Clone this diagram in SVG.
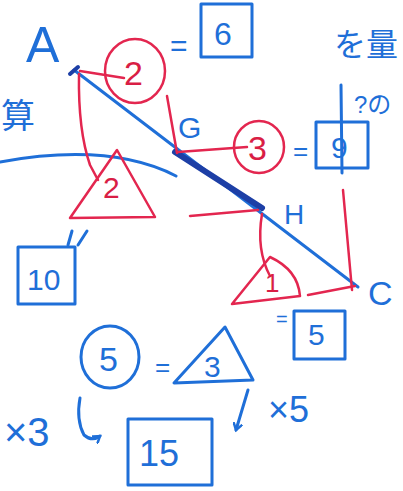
<svg xmlns="http://www.w3.org/2000/svg" width="403" height="491" viewBox="0 0 403 491">
<style>
.b{fill:none;stroke:#1f6fd8;stroke-width:3;stroke-linecap:round;stroke-linejoin:round}
.r{fill:none;stroke:#e3264f;stroke-width:2.5;stroke-linecap:round;stroke-linejoin:round}
.bt{fill:#1f6fd8;font-family:"Liberation Sans","Noto Sans CJK JP",sans-serif}
.rt{fill:#d91e45;font-family:"Liberation Sans",sans-serif}
</style>
<defs>
<marker id="ah" markerWidth="10" markerHeight="10" refX="7" refY="5" orient="auto" markerUnits="userSpaceOnUse">
<path d="M1,1 L7,5 L1,9" fill="none" stroke="#1f6fd8" stroke-width="2.5" stroke-linecap="round"/>
</marker>
</defs>
<rect width="403" height="491" fill="#fff"/>

<g id="connectors">
<path class="b" d="M0,162 Q110,142 176,176"/>
<path class="b" d="M74,70 L358,287"/>
<path d="M175,152 L262,208" fill="none" stroke="#1d3fa6" stroke-width="6" stroke-linecap="round"/>
<path d="M70,74 L78,67" fill="none" stroke="#1d3fa6" stroke-width="4" stroke-linecap="round"/>
<path class="r" d="M80,71 L124,78"/>
<path class="r" d="M79,74 Q78,130 90,165 L98,180"/>
<path class="r" d="M167,96 L177,153"/>
<path class="r" d="M178,152 L247,147"/>
<path class="r" d="M190,216 L258,210"/>
<path class="r" d="M262,214 Q256,250 270,276"/>
<path class="r" d="M343,190 L352,290"/>
<path class="r" d="M308,295 L355,286"/>
<path class="b" d="M341,85 L342,173"/>
<path class="b" d="M80,398 Q76,420 84,435 Q92,442 100,436" marker-end="url(#ah)"/>
<path class="b" d="M248,390 L236,430" marker-end="url(#ah)"/>
</g>

<g id="A"><text class="bt" x="26" y="62" font-size="50">A</text></g>
<g id="kanji-left"><text class="bt" x="1" y="128" font-size="34">算</text></g>
<g id="kanji-right"><text class="bt" x="334" y="56" font-size="32">を量</text></g>

<g id="circle2">
<ellipse class="r" cx="135" cy="71" rx="30" ry="32"/>
<text class="rt" x="124" y="85" font-size="34">2</text>
</g>
<g id="eq6">
<text class="bt" x="170" y="56" font-size="30">=</text>
<rect class="b" x="201" y="4" width="51" height="53"/>
<text class="bt" x="214" y="45" font-size="32">6</text>
</g>
<g id="G"><text class="bt" x="178" y="138" font-size="30">G</text></g>
<g id="circle3">
<ellipse class="r" cx="259" cy="147" rx="25" ry="26"/>
<text class="rt" x="248" y="160" font-size="34">3</text>
</g>
<g id="eq9">
<text class="bt" x="293" y="160" font-size="26">=</text>
<rect class="b" x="316" y="122" width="52" height="46"/>
<text class="bt" x="331" y="158" font-size="30">9</text>
<text class="bt" x="354" y="113" font-size="24">?の</text>
</g>
<g id="tri2">
<path class="r" d="M70,218 L155,217 L117,150 Z"/>
<text class="rt" x="103" y="198" font-size="30">2</text>
</g>
<g id="box10">
<rect class="b" x="18" y="247" width="57" height="57"/>
<path class="b" d="M68,245 L72,231 M78,245 L87,231"/>
<text class="bt" x="27" y="290" font-size="30">10</text>
</g>
<g id="H"><text class="bt" x="284" y="224" font-size="28">H</text></g>
<g id="tri1">
<path class="r" d="M232,304 L300,296 Q298,270 270,257 Z"/>
<text class="rt" x="265" y="292" font-size="26">1</text>
</g>
<g id="C"><text class="bt" x="368" y="305" font-size="34">C</text></g>
<g id="box5">
<text class="bt" x="276" y="326" font-size="20">=</text>
<rect class="b" x="294" y="311" width="51" height="48"/>
<text class="bt" x="308" y="345" font-size="30">5</text>
</g>
<g id="circle5">
<ellipse class="b" cx="110" cy="357" rx="29" ry="31"/>
<text class="bt" x="99" y="371" font-size="34">5</text>
</g>
<g id="tri3">
<text class="bt" x="155" y="376" font-size="26">=</text>
<path class="b" d="M174,383 L253,380 L225,327 Z"/>
<text class="bt" x="204" y="377" font-size="30">3</text>
</g>
<g id="x3"><text class="bt" x="4" y="446" font-size="40">×3</text></g>
<g id="box15">
<rect class="b" x="128" y="419" width="84" height="66"/>
<text class="bt" x="139" y="466" font-size="36">15</text>
</g>
<g id="x5"><text class="bt" x="268" y="422" font-size="36">×5</text></g>
</svg>
